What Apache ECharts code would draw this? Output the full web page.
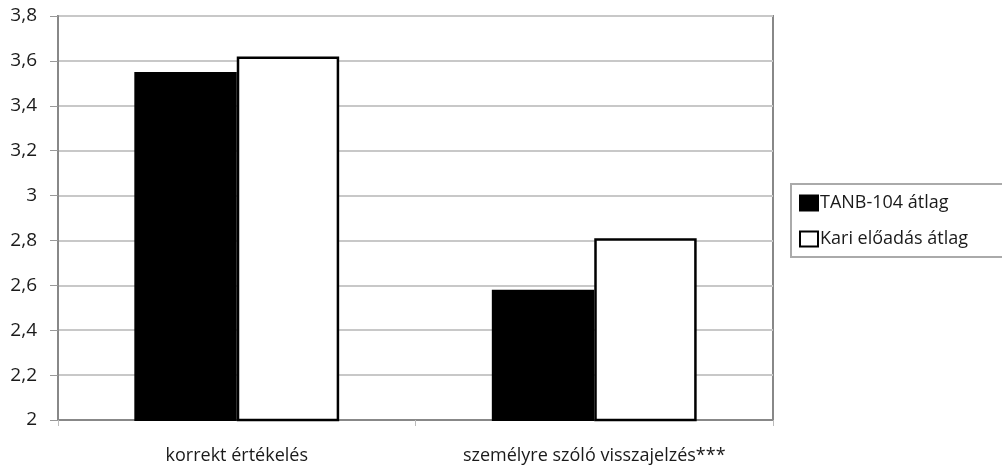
<!DOCTYPE html>
<html>
<head>
<meta charset="utf-8">
<script src="https://cdn.jsdelivr.net/npm/echarts@6/dist/echarts.min.js"></script>
<style>
html,body{margin:0;padding:0;background:#fff;}
#c{width:1002px;height:467px;}
</style>
</head>
<body>
<div id="c"></div>
<script>
var categories = ['korrekt értékelés', 'személyre szóló visszajelzés***'];
var seriesNames = ['TANB-104 átlag', 'Kari előadás átlag'];
var tanbValues = [3.55, 2.58];
var kariValues = [3.62, 2.81];
var yMin = 2, yMax = 3.8, yStep = 0.2;

var FONT = '"Open Sans", "Noto Sans", sans-serif';
var chart = echarts.init(document.getElementById('c'), null, {renderer: 'canvas'});
chart.setOption({
  animation: false,
  backgroundColor: '#fff',
  textStyle: {fontFamily: FONT},
  grid: {
    left: 58, right: 229, top: 16, bottom: 47,
    show: true, borderColor: '#888', borderWidth: 2, backgroundColor: 'transparent'
  },
  legend: {
    orient: 'vertical',
    left: 794, top: 189,
    itemWidth: 18, itemHeight: 15, itemGap: 18,
    icon: 'rect',
    textStyle: {fontFamily: FONT, fontSize: 18, color: '#1a1a1a', padding: [0, 0, 0, -3]},
    data: [
      {name: seriesNames[0], itemStyle: {color: '#000', borderColor: '#000', borderWidth: 2}},
      {name: seriesNames[1], itemStyle: {color: '#fff', borderColor: '#000', borderWidth: 2}}
    ]
  },
  graphic: [{
    type: 'rect', left: 790, top: 183, silent: true,
    shape: {width: 230, height: 73},
    style: {fill: 'transparent', stroke: '#aaa', lineWidth: 2}
  }],
  xAxis: {
    type: 'category',
    data: categories,
    axisLine: {show: true, lineStyle: {color: '#888', width: 2}},
    axisTick: {show: true, length: 6, lineStyle: {color: '#bbb', width: 1}},
    axisLabel: {fontFamily: FONT, fontSize: 18, color: '#1a1a1a', margin: 27}
  },
  yAxis: {
    type: 'value',
    min: yMin, max: yMax, interval: yStep,
    axisLine: {show: true, lineStyle: {color: '#888', width: 2}},
    axisTick: {show: true, length: 8, lineStyle: {color: '#999', width: 1}},
    splitLine: {show: true, lineStyle: {color: '#c8c8c8', width: 2}},
    axisLabel: {
      fontFamily: FONT, fontSize: 19, color: '#1a1a1a', margin: 21,
      formatter: function (v) { return String(Math.round(v * 10) / 10).replace('.', ','); }
    }
  },
  series: [
    {
      name: seriesNames[0], type: 'bar', data: tanbValues,
      barGap: '0%', barCategoryGap: '42.7%',
      itemStyle: {color: '#000', borderColor: '#000', borderWidth: 2}
    },
    {
      name: seriesNames[1], type: 'bar', data: kariValues,
      barGap: '0%', barCategoryGap: '42.7%',
      itemStyle: {color: '#fff', borderColor: '#000', borderWidth: 2.5}
    }
  ]
});
</script>
</body>
</html>
